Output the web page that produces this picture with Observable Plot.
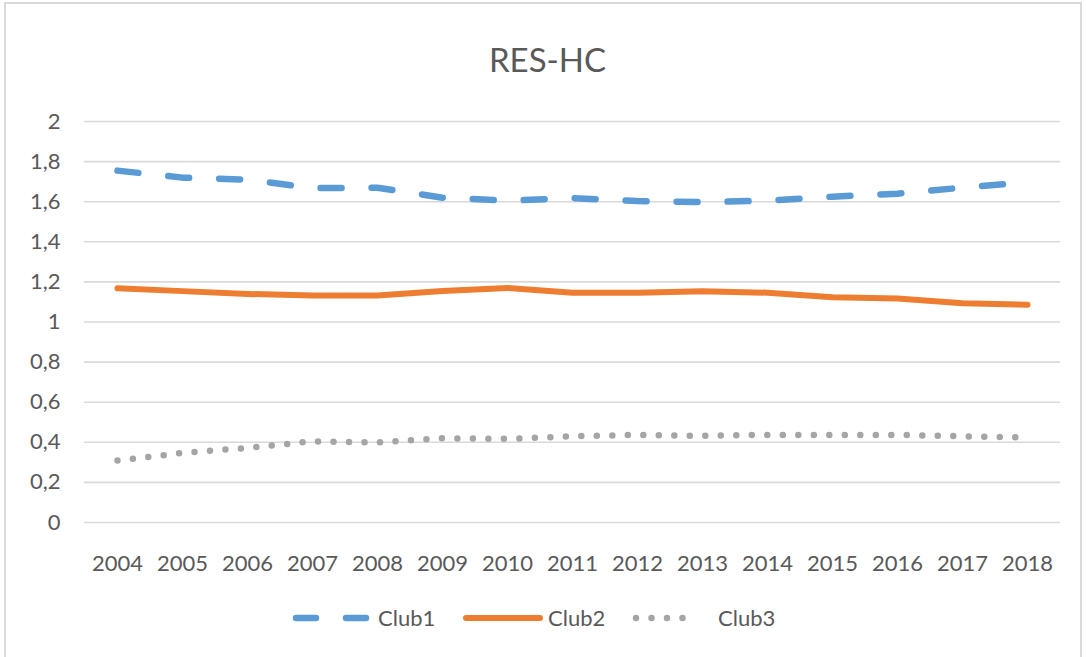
<!DOCTYPE html>
<html>
<head>
<meta charset="utf-8">
<script src="https://cdn.jsdelivr.net/npm/d3@7"></script>
<script src="https://cdn.jsdelivr.net/npm/@observablehq/plot@0.6"></script>
<style>
  html, body { margin: 0; padding: 0; background: #fff; }
  #wrap { position: relative; width: 1087px; height: 657px; overflow: hidden; font-family: Lato, "Open Sans", sans-serif; color: #595959; }
  #border { position: absolute; left: 4px; top: 2px; width: 1078px; height: 670px; border: 2px solid #d9d9d9; box-sizing: border-box; }
  #title { position: absolute; left: 0; top: 0; width: 1087px; height: 100px; }
  #title span { position: absolute; left: 0; width: 1095px; text-align: center; top: 39px; font-size: 33px; line-height: 40px; }
  #chart { position: absolute; left: 0; top: 100px; }
  #legend { position: absolute; left: 0; top: 600px; width: 1087px; height: 40px; }
  .item { position: absolute; top: 0; height: 40px; font-size: 22px; line-height: 36px; }
</style>
</head>
<body>
<div id="wrap">
  <div id="border"></div>
  <div id="title"><span>RES-HC</span></div>
  <div id="chart"></div>
  <div id="legend"></div>
</div>
<script>
const years = [2004, 2005, 2006, 2007, 2008, 2009, 2010, 2011, 2012, 2013, 2014, 2015, 2016, 2017, 2018];
const club1 = [1.755, 1.72, 1.71, 1.668, 1.67, 1.62, 1.605, 1.618, 1.603, 1.598, 1.605, 1.625, 1.64, 1.67, 1.698];
const club2 = [1.168, 1.154, 1.14, 1.132, 1.132, 1.155, 1.17, 1.146, 1.146, 1.153, 1.146, 1.124, 1.117, 1.094, 1.086];
const club3 = [0.309, 0.347, 0.372, 0.405, 0.399, 0.42, 0.417, 0.43, 0.437, 0.432, 0.437, 0.437, 0.437, 0.43, 0.424];
const yTicks = [0, 0.2, 0.4, 0.6, 0.8, 1, 1.2, 1.4, 1.6, 1.8, 2];
const seriesNames = ["Club1", "Club2", "Club3"];
const seriesColors = ["#5B9BD5", "#ED7D31", "#A5A5A5"];

const rows = (vals) => years.map((y, i) => ({year: String(y), value: vals[i]}));
const fmt = (d) => String(d).replace(".", ",");

const plot = Plot.plot({
  width: 1087,
  height: 490,
  marginTop: 21,
  marginBottom: 68,
  marginLeft: 84,
  marginRight: 27,
  style: {fontFamily: "Lato, 'Open Sans', sans-serif", fontSize: "22px", color: "#595959", background: "transparent"},
  x: {type: "point", domain: years.map(String), padding: 0.5, label: null},
  y: {domain: [0, 2], label: null},
  marks: [
    Plot.ruleY(yTicks, {stroke: "#d9d9d9", strokeWidth: 1.6}),
    Plot.axisY({ticks: yTicks, tickFormat: fmt, tickSize: 0, tickPadding: 24, label: null, fill: "#595959", fontSize: 22}),
    Plot.axisX({tickSize: 0, tickPadding: 33, label: null, fill: "#595959", fontSize: 22}),
    Plot.line(rows(club3), {x: "year", y: "value", stroke: seriesColors[2], strokeWidth: 6.5, strokeLinecap: "round", strokeDasharray: "0,15.5"}),
    Plot.line(rows(club2), {x: "year", y: "value", stroke: seriesColors[1], strokeWidth: 6, strokeLinecap: "round", strokeLinejoin: "round"}),
    Plot.line(rows(club1), {x: "year", y: "value", stroke: seriesColors[0], strokeWidth: 6.5, strokeLinecap: "round", strokeLinejoin: "round", strokeDasharray: "21,30"})
  ]
});
document.getElementById("chart").appendChild(plot);

// Legend
const legend = d3.select("#legend");
const items = [
  {name: seriesNames[0], color: seriesColors[0], left: 292, sw: 82, dash: "20,30", w: 6.5, textLeft: 378},
  {name: seriesNames[1], color: seriesColors[1], left: 462, sw: 83, dash: null, w: 6, textLeft: 548},
  {name: seriesNames[2], color: seriesColors[2], left: 632, sw: 70, dash: "0,15.5", w: 6.5, textLeft: 718}
];
items.forEach(it => {
  const svg = legend.append("svg")
    .attr("width", it.sw).attr("height", 40)
    .style("position", "absolute").style("left", it.left + "px").style("top", "0px");
  svg.append("line")
    .attr("x1", 4).attr("x2", it.sw - 5).attr("y1", 18).attr("y2", 18)
    .attr("stroke", it.color).attr("stroke-width", it.w).attr("stroke-linecap", "round")
    .attr("stroke-dasharray", it.dash);
  legend.append("div").attr("class", "item").style("left", it.textLeft + "px").text(it.name);
});
</script>
</body>
</html>
